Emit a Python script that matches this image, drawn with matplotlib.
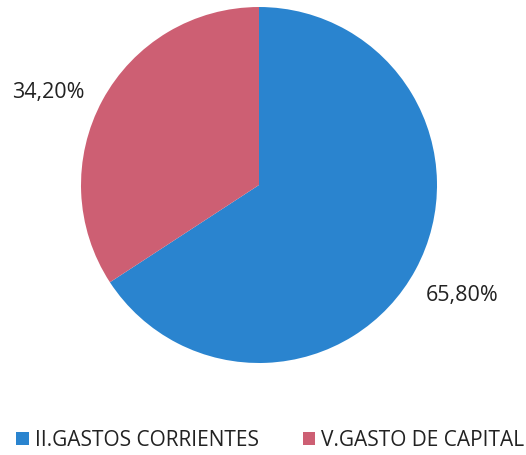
import matplotlib
matplotlib.use("Agg")
import matplotlib.pyplot as plt

# datos del gráfico
categorias = ["II.GASTOS CORRIENTES", "V.GASTO DE CAPITAL"]
porcentajes = [65.8, 34.2]
etiquetas = ["65,80%", "34,20%"]
colores = ["#2a84cf", "#cd5f73"]

plt.rcParams["font.family"] = ["Open Sans", "DejaVu Sans"]

fig = plt.figure(figsize=(5.26, 4.55), dpi=100)
ax = fig.add_axes([0.154, 0.2022, 0.6768, 0.7824])

wedges, texts = ax.pie(porcentajes, labels=etiquetas, colors=colores,
                       startangle=90, counterclock=False, labeldistance=1.3,
                       textprops={"fontsize": 15.5, "color": "#222222"})
for t in texts:
    t.set_ha("center")
    t.set_va("center")
# la etiqueta roja queda algo más baja y a la izquierda en el original
x, y = texts[1].get_position()
texts[1].set_position((x - 0.04, y - 0.1))
ax.set_xlim(-1, 1)
ax.set_ylim(-1, 1)
ax.set_aspect("auto")

fig.legend(wedges, categorias, loc="center", bbox_to_anchor=(0.514, 1 - 440 / 455),
           ncol=2, frameon=False, fontsize=15, handlelength=0.6, handleheight=0.6,
           handletextpad=0.3, columnspacing=2.1, labelcolor="#222222")

plt.savefig("out.png", dpi=100)
